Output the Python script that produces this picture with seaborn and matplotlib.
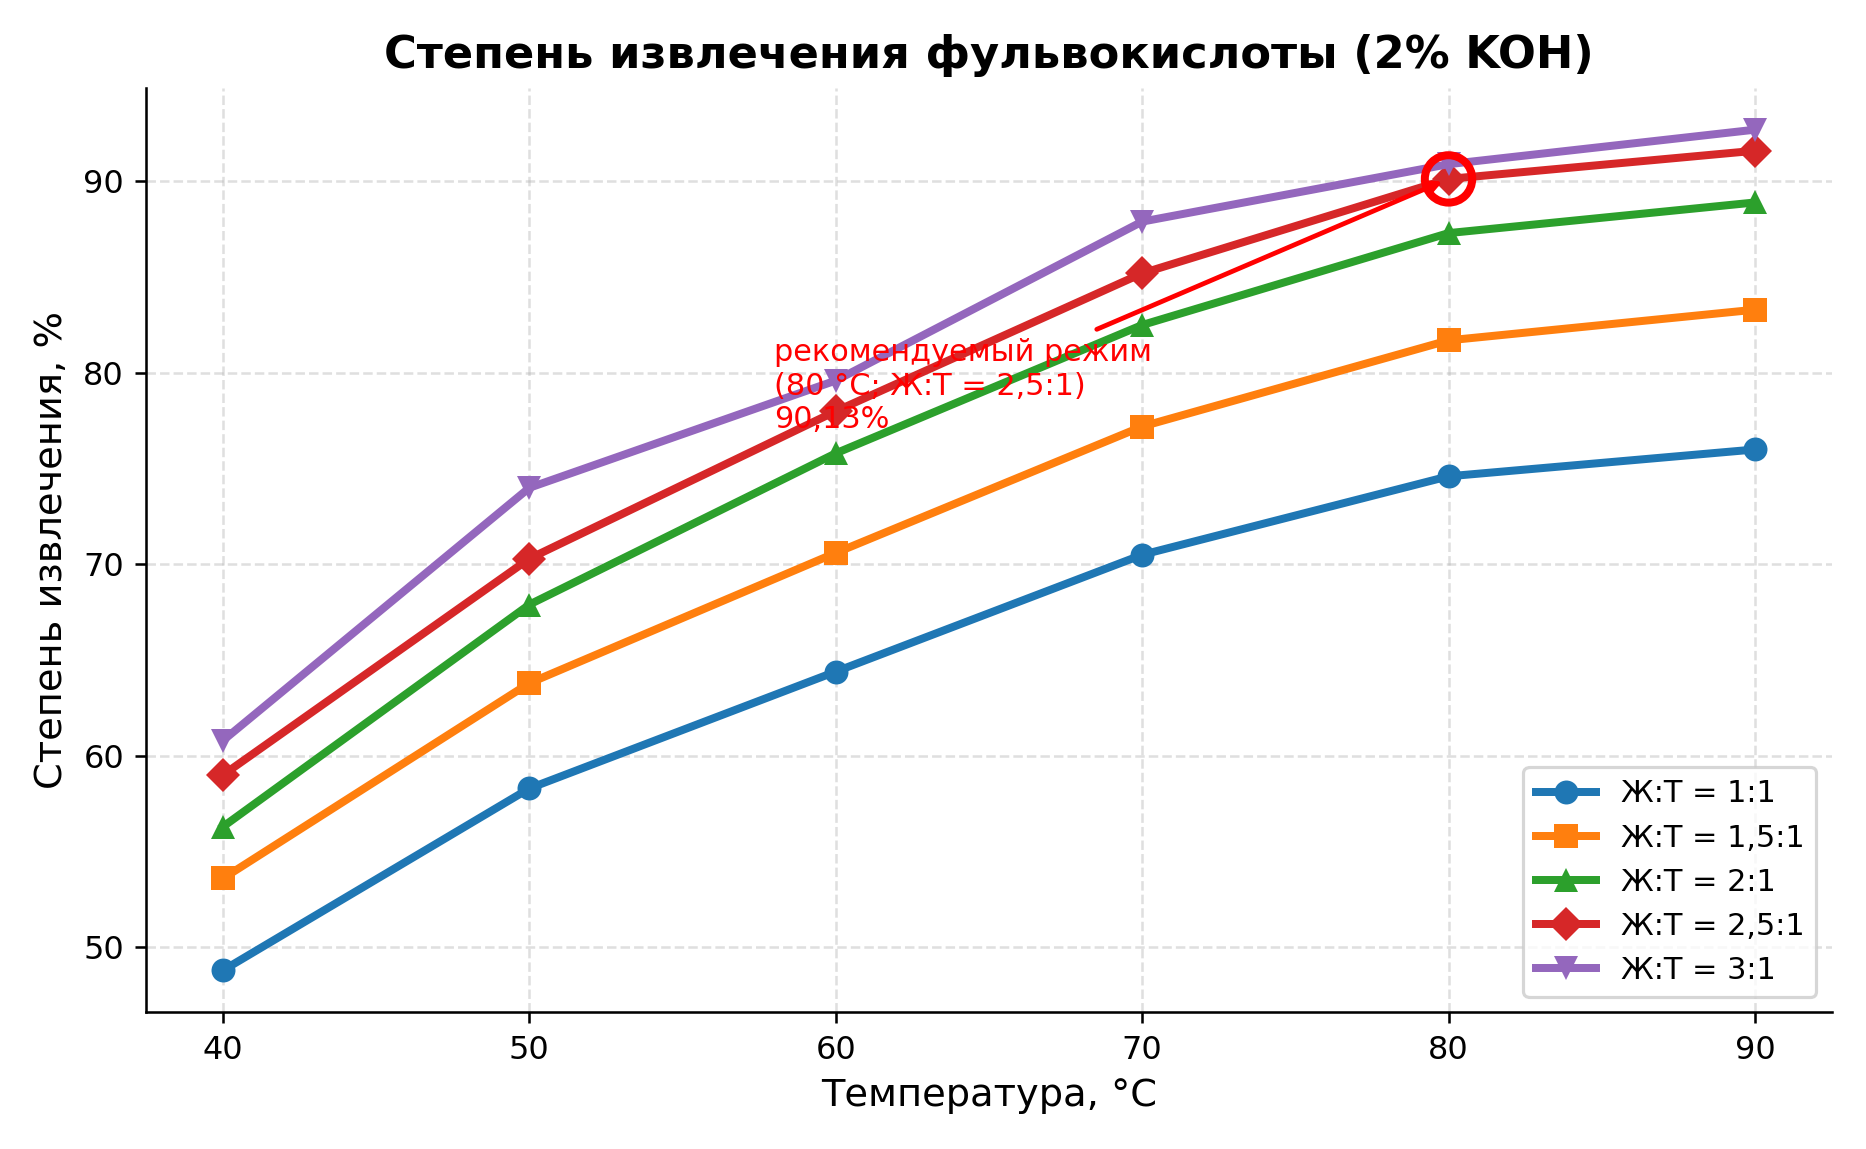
import seaborn as sns
import matplotlib.pyplot as plt
import pandas as pd

# данные
temps = [40, 50, 60, 70, 80, 90]
ratios = ["1:1", "1,5:1", "2:1", "2,5:1", "3:1"]
y_1 = [48.8, 58.3, 64.4, 70.5, 74.6, 76.0]
y_15 = [53.6, 63.8, 70.6, 77.2, 81.7, 83.3]
y_2 = [56.3, 67.9, 75.8, 82.5, 87.3, 88.9]
y_25 = [59.0, 70.3, 78.0, 85.2, 90.13, 91.6]
y_3 = [60.8, 74.0, 79.6, 87.9, 90.9, 92.7]
best_t, best_y = 80, 90.13

series = [y_1, y_15, y_2, y_25, y_3]
markers = ["o", "s", "^", "D", "v"]
colors = sns.color_palette("tab10", 5)

plt.rcParams['font.family'] = ['DejaVu Sans']

DPI = 230
fig, ax = plt.subplots(figsize=(1866 / DPI, 1149 / DPI), dpi=DPI)

for r, ys, m, c in zip(ratios, series, markers, colors):
    df = pd.DataFrame({"t": temps, "y": ys})
    sns.lineplot(data=df, x="t", y="y", ax=ax, marker=m, color=c,
                 linewidth=2.5, markersize=7.5, markeredgewidth=0,
                 label=f"Ж:Т = {r}")

# рекомендуемый режим
ax.scatter([best_t], [best_y], s=220, facecolors="none",
           edgecolors="red", linewidths=2.5, zorder=10)
ax.annotate("рекомендуемый режим\n(80 °C; Ж:Т = 2,5:1)\n90,13%",
            xy=(best_t, best_y), xytext=(58, 77.1),
            color="red", fontsize=9.5,
            arrowprops=dict(arrowstyle="->", color="red", lw=1.5))

ax.set_title("Степень извлечения фульвокислоты (2% KOH)",
             fontsize=14, fontweight="bold")
ax.set_xlabel("Температура, °C", fontsize=12)
ax.set_ylabel("Степень извлечения, %", fontsize=12)
ax.set_xticks(temps)
ax.grid(True, linestyle="--", alpha=0.4)
sns.despine(ax=ax)
ax.legend(loc="lower right", fontsize=9.5)

plt.tight_layout()
plt.savefig("out.png", dpi=DPI)
